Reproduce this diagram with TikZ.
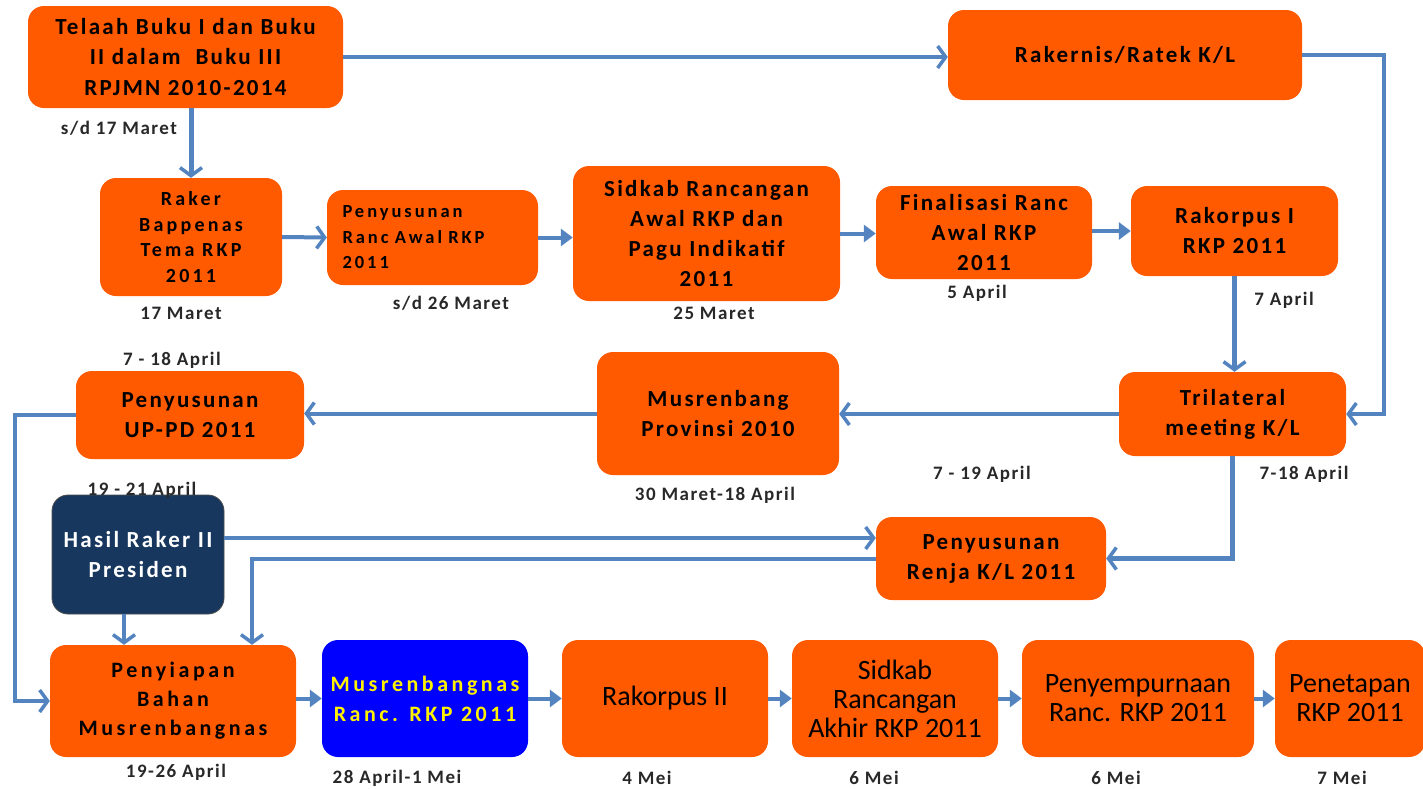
\documentclass[tikz,border=0pt]{standalone}
\usepackage{fontspec}
\setmainfont{Carlito}
\newfontfamily\boxfont[LetterSpace=10]{Carlito}
\newfontfamily\wideboxfont[LetterSpace=16]{Carlito}
\newfontfamily\lblfont[LetterSpace=8]{Carlito}
\usetikzlibrary{arrows.meta}
\definecolor{orng}{RGB}{255,90,0}
\definecolor{navy}{RGB}{23,55,94}
\definecolor{pblue}{RGB}{0,0,255}
\definecolor{arr}{RGB}{84,132,192}
\definecolor{lbl}{RGB}{40,40,40}
\begin{document}
\begin{tikzpicture}[x=1pt,y=-1pt,
  box/.style={rounded corners=16pt, fill=orng, draw=none, inner sep=2pt, align=center,
    font=\boxfont\bfseries\fontsize{23}{30}\selectfont, text=black},
  plainbox/.style={box, font=\fontsize{28}{29}\selectfont},
  dlabel/.style={font=\lblfont\bfseries\fontsize{19}{20}\selectfont, text=lbl, inner sep=0pt},
  conn/.style={draw=arr, line width=4pt},
  barb/.style={conn, -{Straight Barb[length=8pt,width=22pt,line width=3.5pt]}},
  tri/.style={conn, -{Triangle[length=12pt,width=17pt]}}]
\useasboundingbox (0,0) rectangle (1423,788);
\clip (0,0) rectangle (1423,788);
\fill[white] (0,0) rectangle (1423,788);

% boxes
\node[box, minimum width=315pt, minimum height=102pt, font=\boxfont\bfseries\fontsize{23}{30.5}\selectfont] (telaah) at (185.5,57) {Telaah Buku I dan Buku\\II dalam\ \ Buku III\\RPJMN 2010-2014};
\node[box, minimum width=354pt, minimum height=90pt] (rakernis) at (1125,55) {Rakernis/Ratek K/L};
\node[box, minimum width=182pt, minimum height=118pt, font=\wideboxfont\bfseries\fontsize{20}{25.5}\selectfont] (raker) at (191,237) {Raker\\Bappenas\\Tema RKP\\2011};
\node[box, minimum width=211pt, minimum height=95pt, font=\wideboxfont\bfseries\fontsize{18.5}{25.5}\selectfont, text width=180pt, align=left] (penyranc) at (432.5,237.5) {Penyusunan\\Ranc Awal RKP\\2011};
\node[box, minimum width=267pt, minimum height=135pt] (sidkab) at (706.5,233.5) {Sidkab Rancangan\\Awal RKP dan\\Pagu Indikatif\\2011};
\node[box, minimum width=216pt, minimum height=93pt] (final) at (984,232.5) {Finalisasi Ranc\\Awal RKP\\2011};
\node[box, minimum width=207pt, minimum height=90pt] (rakorpus) at (1234.5,231) {Rakorpus I\\RKP 2011};
\node[box, minimum width=227pt, minimum height=84pt] (trilat) at (1232.5,414) {Trilateral\\meeting K/L};
\node[box, minimum width=242pt, minimum height=123pt] (musprov) at (718,413.5) {Musrenbang\\Provinsi 2010};
\node[box, minimum width=228pt, minimum height=88pt] (uppd) at (190,415) {Penyusunan\\UP-PD 2011};
\node[box, fill=navy, text=white, draw=black!70, line width=0.8pt, minimum width=172pt, minimum height=119pt] (hasil) at (138,554.5) {Hasil Raker II\\Presiden};
\node[box, minimum width=230pt, minimum height=83pt] (renja) at (991,558.5) {Penyusunan\\Renja K/L 2011};
\node[box, minimum width=246pt, minimum height=112pt, font=\wideboxfont\bfseries\fontsize{22}{29}\selectfont] (penyiapan) at (173,701) {Penyiapan\\Bahan\\Musrenbangnas};
\node[box, fill=pblue, text=yellow, minimum width=206pt, minimum height=117pt, font=\wideboxfont\bfseries\fontsize{22}{30}\selectfont] (musnas) at (425,698.5) {Musrenbangnas\\Ranc. RKP 2011};
\node[plainbox, minimum width=206pt, minimum height=117pt] (rakorpus2) at (665,698.5) {Rakorpus II};
\node[plainbox, minimum width=206pt, minimum height=117pt] (sidakhir) at (895,698.5) {Sidkab\\Rancangan\\Akhir RKP 2011};
\node[plainbox, minimum width=232pt, minimum height=117pt] (penyemp) at (1138,698.5) {Penyempurnaan\\Ranc. RKP 2011};
\node[plainbox, minimum width=150pt, minimum height=117pt] (penetapan) at (1350,698.5) {Penetapan\\RKP 2011};

% date labels
\node[dlabel] (d1) at (119,128) {s/d 17 Maret};
\node[dlabel] (d2) at (181,313) {17 Maret};
\node[dlabel] (d3) at (451,303) {s/d 26 Maret};
\node[dlabel] (d4) at (714,313) {25 Maret};
\node[dlabel] (d5) at (977,293) {5 April};
\node[dlabel] (d6) at (1284,300) {7 April};
\node[dlabel] (d7) at (172,360) {7 - 18 April};
\node[dlabel] (d8) at (142,490) {19 - 21 April};
\node[dlabel] (d9) at (715,495) {30 Maret-18 April};
\node[dlabel] (d10) at (982,474) {7 - 19 April};
\node[dlabel] (d11) at (1304,474) {7-18 April};
\node[dlabel] (d12) at (176,772) {19-26 April};
\node[dlabel] (d13) at (397,778) {28 April-1 Mei};
\node[dlabel] (d14) at (647,778) {4 Mei};
\node[dlabel] (d15) at (874,778) {6 Mei};
\node[dlabel] (d16) at (1116,778) {6 Mei};
\node[dlabel] (d17) at (1342,778) {7 Mei};

% helper coordinates
\coordinate (rc) at (1384,0);
\coordinate (lc) at (15,0);
\coordinate (rjc) at (252,0);

% connectors
\draw[barb] (telaah.east) -- (telaah.east -| rakernis.west);
\draw[barb, line width=5pt] (raker.north |- telaah.south) -- (raker.north);
\draw[barb] (raker.east) -- (penyranc.west);
\draw[tri] (penyranc.east) -- (penyranc.east -| sidkab.west);
\draw[tri] (sidkab.east) -- (sidkab.east -| final.west);
\draw[tri] (final.east |- rakorpus.west) -- (rakorpus.west);
\draw[barb, line width=5pt] (rakorpus.south) -- (rakorpus.south |- trilat.north);
\draw[barb] (rakernis.east) -- (rakernis.east -| rc) |- (trilat.east);
\draw[barb] (trilat.west) -- (trilat.west -| musprov.east);
\draw[barb] (musprov.west) -- (musprov.west -| uppd.east);
\draw[barb] (uppd.west) -- (uppd.west -| lc) |- (penyiapan.west);
\draw[barb, line width=5pt] (trilat.south) |- (renja.east);
\draw[barb] ([yshift=16.5pt]hasil.east) -- ([yshift=16.5pt]hasil.east -| renja.west);
\draw[barb] (renja.west) -| (rjc |- penyiapan.north);
\draw[barb] ([xshift=-14pt]hasil.south) -- ([xshift=-14pt]hasil.south |- penyiapan.north);
\draw[tri] (penyiapan.east |- musnas.west) -- (musnas.west);
\draw[tri] (musnas.east) -- (rakorpus2.west);
\draw[tri] (rakorpus2.east) -- (sidakhir.west);
\draw[tri] (sidakhir.east) -- (penyemp.west);
\draw[tri] (penyemp.east) -- (penetapan.west);
\end{tikzpicture}
\end{document}
